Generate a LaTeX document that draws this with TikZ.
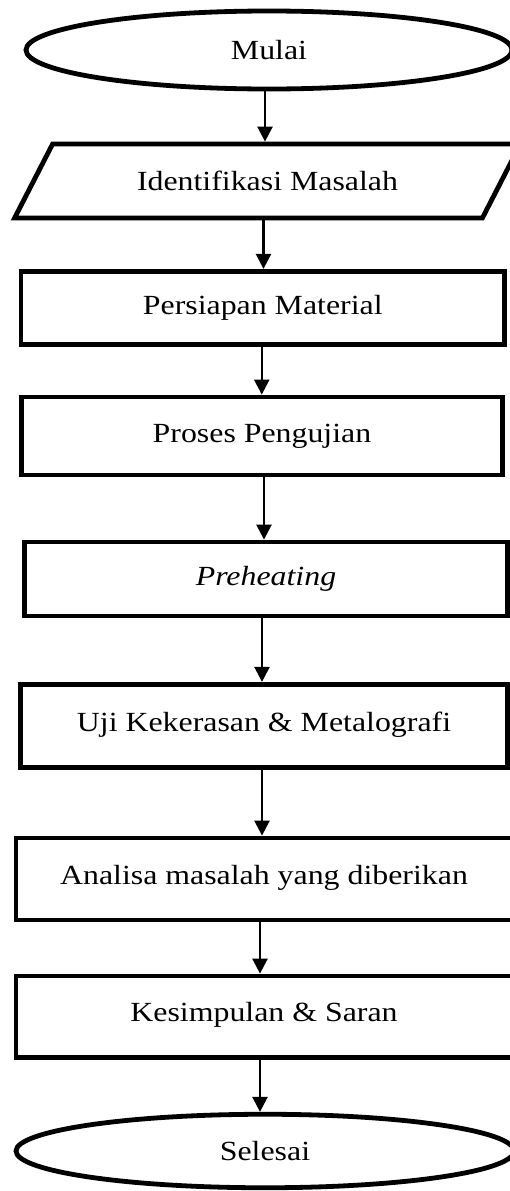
\documentclass[tikz,border=0pt]{standalone}
\usepackage{fontspec}
\setmainfont{Liberation Serif}[FakeStretch=1.15]
\usetikzlibrary{shapes.geometric,arrows.meta}
\begin{document}
\begin{tikzpicture}[x=1pt,y=-1pt,
  every node/.style={font=\fontsize{27.7}{32}\selectfont, inner sep=0pt},
  term/.style={draw, ellipse, line width=4.8pt},
  stepbox/.style={draw, rectangle, line width=4.8pt},
  arr/.style={line width=2.5pt, -{Triangle[width=15pt,length=15pt]}}]
\useasboundingbox (0,0) rectangle (510,1191);
\fill[white] (0,0) rectangle (510,1191);
% nodes
\node[term, minimum width=486pt, minimum height=78pt] (start) at (269,50) {Mulai};
\node[rectangle, minimum width=463pt, minimum height=74pt, outer sep=2.4pt] (idm) at (267.5,181) {Identifikasi Masalah};
\draw[line width=4.8pt, line join=miter]
  ([xshift=-19pt,yshift=2.4pt]idm.south west) -- ([xshift=19pt,yshift=-2.4pt]idm.north west)
  -- ([xshift=19pt,yshift=-2.4pt]idm.north east) -- ([xshift=-19pt,yshift=2.4pt]idm.south east) -- cycle;
\node[stepbox, minimum width=483.5pt, minimum height=73.5pt] (pers) at (262.75,308) {Persiapan Material};
\node[stepbox, minimum width=481pt, minimum height=78pt] (proses) at (262,436) {Proses Pengujian};
\node[stepbox, minimum width=483.5pt, minimum height=74pt] (pre) at (266,579) {\itshape Preheating};
\node[stepbox, minimum width=487pt, minimum height=83.5pt] (uji) at (264,726) {\raisebox{9pt}{Uji Kekerasan \& Metalografi}};
\node[stepbox, minimum width=496pt, minimum height=82pt] (ana) at (264,879) {\raisebox{9pt}{Analisa masalah yang diberikan}};
\node[stepbox, minimum width=496pt, minimum height=81.5pt] (kes) at (264,1016.75) {\raisebox{9pt}{Kesimpulan \& Saran}};
\node[term, minimum width=498pt, minimum height=73.5pt] (end) at (265,1151) {Selesai};
% connectors
\draw[arr] ([xshift=-4pt]start.south) -- ([xshift=-4pt]start.south |- idm.north);
\draw[arr] ([xshift=-4pt]idm.south) -- ([xshift=-4pt]idm.south |- pers.north);
\draw[arr] ([xshift=-1pt]pers.south) -- ([xshift=-1pt]pers.south |- proses.north);
\draw[arr] ([xshift=2pt]proses.south) -- ([xshift=2pt]proses.south |- pre.north);
\draw[arr] ([xshift=-4pt]pre.south) -- ([xshift=-4pt]pre.south |- uji.north);
\draw[arr] ([xshift=-2pt]uji.south) -- ([xshift=-2pt]uji.south |- ana.north);
\draw[arr] ([xshift=-4pt]ana.south) -- ([xshift=-4pt]ana.south |- kes.north);
\draw[arr] ([xshift=-4pt]kes.south) -- ([xshift=-4pt]kes.south |- end.north);
\end{tikzpicture}
\end{document}
